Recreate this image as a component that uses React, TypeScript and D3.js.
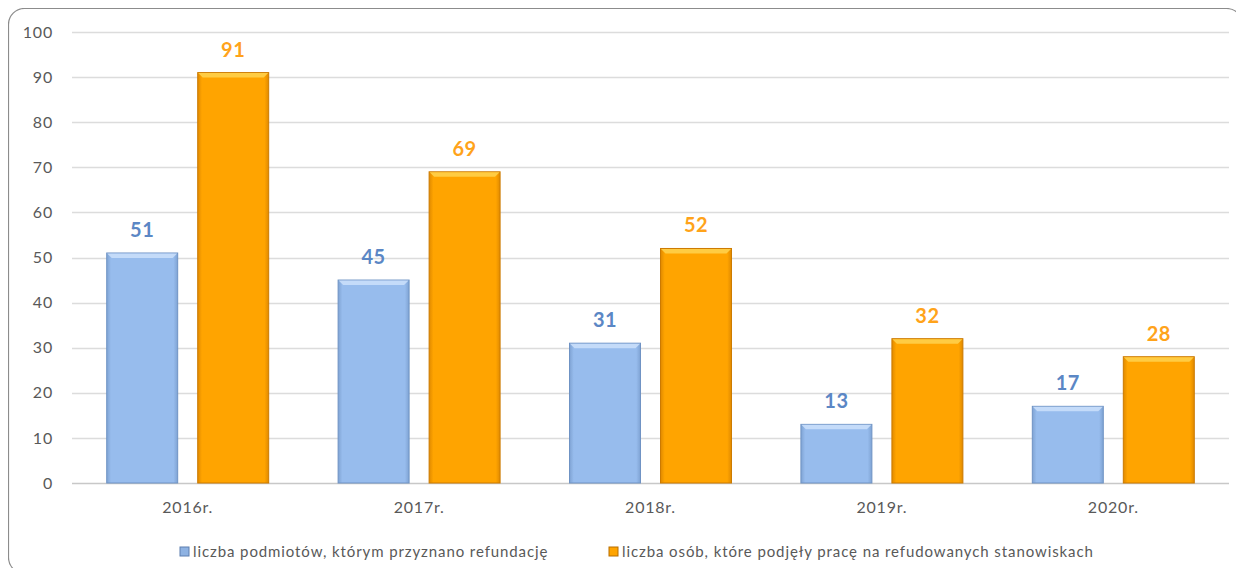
import React, { useEffect, useRef } from 'react';
import * as d3 from 'd3';

const categories = ['2016r.', '2017r.', '2018r.', '2019r.', '2020r.'];
const podmioty = [51, 45, 31, 13, 17];
const osoby = [91, 69, 52, 32, 28];
const seriesNames = [
  'liczba podmiotów, którym przyznano refundację',
  'liczba osób, które podjęły pracę na refudowanych stanowiskach'
];
const yTicks = [0, 10, 20, 30, 40, 50, 60, 70, 80, 90, 100];

const FONT = 'Lato, "Open Sans", sans-serif';

const App: React.FC = () => {
  const ref = useRef<SVGSVGElement>(null);

  useEffect(() => {
    if (!ref.current) return;
    const svg = d3.select(ref.current);
    svg.selectAll('*').remove();

    const left = 72, right = 1229, top = 32, bottom = 483;

    // gradients for the bevelled bars
    const defs = svg.append('defs');
    const mkGrad = (id: string, edge: string, mid: string) => {
      const g = defs.append('linearGradient').attr('id', id).attr('x1', 0).attr('x2', 1).attr('y1', 0).attr('y2', 0);
      g.append('stop').attr('offset', '0%').attr('stop-color', edge);
      g.append('stop').attr('offset', '6%').attr('stop-color', mid);
      g.append('stop').attr('offset', '94%').attr('stop-color', mid);
      g.append('stop').attr('offset', '100%').attr('stop-color', edge);
    };
    mkGrad('gBlue', '#7fa3d3', '#97bced');
    mkGrad('gOrange', '#e08a00', '#ffa400');

    // frame
    svg.append('rect')
      .attr('x', 8.5).attr('y', 8.5).attr('width', 1234).attr('height', 565)
      .attr('rx', 16).attr('fill', '#fff').attr('stroke', '#8c8c8c').attr('stroke-width', 1.2);

    const x0 = d3.scaleBand<string>().domain(categories).range([left, right]).paddingInner(0.3).paddingOuter(0.15);
    const x1 = d3.scaleBand<number>().domain([0, 1]).range([0, x0.bandwidth()]).paddingInner(0.22);
    const y = d3.scaleLinear().domain([0, 100]).range([bottom, top]);

    // grid
    svg.append('g').selectAll('line').data(yTicks).enter().append('line')
      .attr('x1', left).attr('x2', right)
      .attr('y1', d => Math.round(y(d)) + 0.5).attr('y2', d => Math.round(y(d)) + 0.5)
      .attr('stroke', d => d === 0 ? '#c8c8c8' : '#dcdcdc').attr('stroke-width', 1.5);

    // y labels
    svg.append('g').selectAll('text').data(yTicks).enter().append('text')
      .attr('x', 53).attr('y', d => y(d)).attr('dy', '0.35em')
      .attr('text-anchor', 'end').attr('font-family', FONT).attr('font-size', 16)
      .attr('letter-spacing', 0.8).attr('fill', '#595959')
      .text(d => d);

    // x labels
    svg.append('g').selectAll('text').data(categories).enter().append('text')
      .attr('x', d => (x0(d) as number) + x0.bandwidth() / 2).attr('y', 513)
      .attr('text-anchor', 'middle').attr('font-family', FONT).attr('font-size', 16)
      .attr('letter-spacing', 0.8).attr('fill', '#595959')
      .text(d => d);

    const series = [
      { values: podmioty, grad: 'url(#gBlue)', stroke: '#6f93c4', bevel: '#c9defa', label: '#5b87c5' },
      { values: osoby, grad: 'url(#gOrange)', stroke: '#cc7a00', bevel: '#ffd04a', label: '#ffa31a' }
    ];

    series.forEach((s, si) => {
      const g = svg.append('g');
      const bx = (i: number) => (x0(categories[i]) as number) + (x1(si) as number);
      const bw = x1.bandwidth();
      g.selectAll('rect.bar').data(s.values).enter().append('rect')
        .attr('class', 'bar')
        .attr('x', (_, i) => bx(i)).attr('y', d => y(d))
        .attr('width', bw).attr('height', d => bottom - y(d))
        .attr('fill', s.grad).attr('stroke', s.stroke).attr('stroke-width', 1);
      // bevel top highlight
      g.selectAll('path.bevel').data(s.values).enter().append('path')
        .attr('class', 'bevel')
        .attr('d', (d, i) => {
          const xa = bx(i), ya = y(d);
          return `M${xa + 0.5},${ya + 0.5}L${xa + bw - 0.5},${ya + 0.5}L${xa + bw - 5},${ya + 5}L${xa + 5},${ya + 5}Z`;
        })
        .attr('fill', s.bevel).attr('opacity', 0.9);
      g.selectAll('text').data(s.values).enter().append('text')
        .attr('x', (_, i) => bx(i) + bw / 2).attr('y', d => y(d) - 16)
        .attr('text-anchor', 'middle').attr('font-family', FONT).attr('font-weight', 'bold')
        .attr('font-size', 20).attr('letter-spacing', 0.5).attr('fill', s.label)
        .text(d => d);
    });

    // legend
    const legX = [180, 609];
    const legColors = [['#8eb2e2', '#5d7fb0'], ['#ffa400', '#b86e00']];
    seriesNames.forEach((name, i) => {
      svg.append('rect').attr('x', legX[i]).attr('y', 547).attr('width', 9).attr('height', 9)
        .attr('fill', legColors[i][0]).attr('stroke', legColors[i][1]).attr('stroke-width', 1);
      svg.append('text').attr('x', legX[i] + 13).attr('y', 552).attr('dy', '0.35em')
        .attr('font-family', FONT).attr('font-size', 15).attr('letter-spacing', 0.9).attr('fill', '#595959')
        .text(name);
    });
  }, []);

  return <svg ref={ref} width={1244} height={576} style={{ display: 'block', margin: -8 }} />;
};

export default App;
